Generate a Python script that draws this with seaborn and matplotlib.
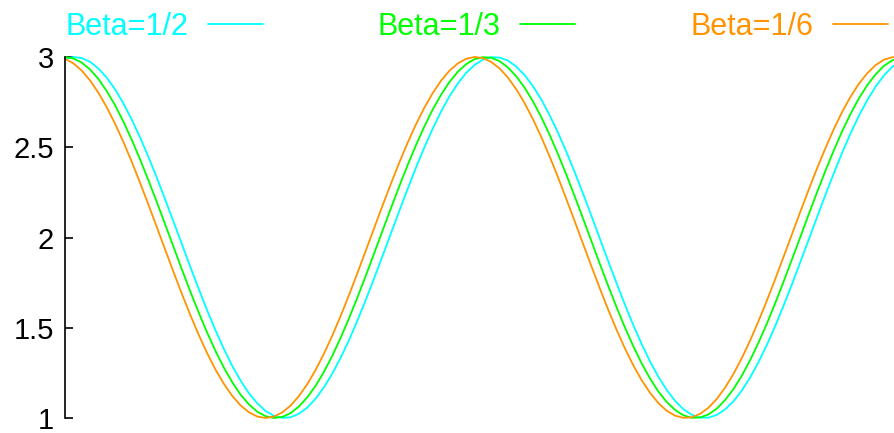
import matplotlib
matplotlib.use("Agg")
import matplotlib.pyplot as plt
import seaborn as sns
import pandas as pd

# x positions (radians), read at regular spacing
x_vals = [0.0, 0.125, 0.25, 0.375, 0.5, 0.625, 0.75, 0.875, 1.0, 1.125, 1.25,
          1.375, 1.5, 1.625, 1.75, 1.875, 2.0, 2.125, 2.25, 2.375, 2.5, 2.625,
          2.75, 2.875, 3.0, 3.125, 3.25, 3.375, 3.5, 3.625, 3.75, 3.875, 4.0,
          4.125, 4.25, 4.375, 4.5, 4.625, 4.75, 4.875, 5.0, 5.125, 5.25, 5.375,
          5.5, 5.625, 5.75, 5.875, 6.0, 6.125, 6.25, 6.375, 6.5, 6.625, 6.75,
          6.875, 7.0, 7.125, 7.25, 7.375, 7.5, 7.625, 7.75, 7.875, 8.0, 8.125,
          8.25, 8.375, 8.5, 8.625, 8.75, 8.875, 9.0, 9.125, 9.25, 9.375, 9.5,
          9.625, 9.75, 9.875, 10.0, 10.125, 10.25, 10.375, 10.5, 10.625, 10.75,
          10.875, 11.0, 11.125, 11.25, 11.375, 11.5, 11.625, 11.75, 11.875,
          12.0, 12.125, 12.25, 12.375, 12.5]

beta_half = [2.990, 3.000, 2.994, 2.973, 2.936, 2.885, 2.820, 2.742, 2.652,
             2.553, 2.445, 2.330, 2.209, 2.086, 1.961, 1.837, 1.715, 1.598,
             1.487, 1.384, 1.290, 1.208, 1.138, 1.082, 1.039, 1.012, 1.001,
             1.004, 1.024, 1.058, 1.108, 1.171, 1.247, 1.335, 1.433, 1.541,
             1.655, 1.775, 1.898, 2.023, 2.147, 2.269, 2.387, 2.499, 2.603,
             2.698, 2.782, 2.853, 2.912, 2.956, 2.985, 2.999, 2.997, 2.980,
             2.947, 2.900, 2.838, 2.764, 2.677, 2.580, 2.474, 2.361, 2.242,
             2.119, 1.994, 1.869, 1.747, 1.628, 1.515, 1.410, 1.314, 1.229,
             1.155, 1.095, 1.049, 1.018, 1.002, 1.002, 1.017, 1.048, 1.093,
             1.153, 1.226, 1.311, 1.406, 1.511, 1.624, 1.742, 1.865, 1.989,
             2.114, 2.237, 2.356, 2.470, 2.577, 2.674, 2.761, 2.836, 2.898,
             2.946, 2.979]

beta_third = [3.000, 2.992, 2.969, 2.931, 2.878, 2.811, 2.732, 2.641, 2.540,
              2.431, 2.315, 2.195, 2.071, 1.946, 1.822, 1.700, 1.584, 1.474,
              1.372, 1.280, 1.199, 1.130, 1.076, 1.035, 1.010, 1.000, 1.006,
              1.027, 1.064, 1.115, 1.179, 1.257, 1.346, 1.446, 1.554, 1.669,
              1.789, 1.913, 2.038, 2.162, 2.284, 2.401, 2.512, 2.615, 2.709,
              2.791, 2.861, 2.918, 2.960, 2.988, 2.999, 2.996, 2.977, 2.942,
              2.893, 2.830, 2.754, 2.666, 2.568, 2.461, 2.347, 2.227, 2.104,
              1.979, 1.854, 1.732, 1.614, 1.502, 1.398, 1.303, 1.219, 1.147,
              1.089, 1.045, 1.015, 1.001, 1.003, 1.020, 1.052, 1.100, 1.161,
              1.235, 1.322, 1.419, 1.524, 1.638, 1.757, 1.880, 2.004, 2.129,
              2.252, 2.370, 2.483, 2.589, 2.685, 2.771, 2.844, 2.904, 2.951,
              2.982, 2.998]

beta_sixth = [2.990, 2.965, 2.925, 2.870, 2.802, 2.721, 2.629, 2.528, 2.418,
              2.301, 2.180, 2.056, 1.931, 1.807, 1.686, 1.570, 1.461, 1.360,
              1.269, 1.190, 1.123, 1.070, 1.032, 1.008, 1.000, 1.008, 1.031,
              1.069, 1.122, 1.188, 1.267, 1.358, 1.458, 1.567, 1.683, 1.804,
              1.928, 2.053, 2.177, 2.298, 2.415, 2.525, 2.627, 2.719, 2.800,
              2.869, 2.924, 2.964, 2.990, 3.000, 2.994, 2.973, 2.937, 2.886,
              2.821, 2.744, 2.655, 2.556, 2.448, 2.333, 2.212, 2.089, 1.964,
              1.840, 1.718, 1.600, 1.489, 1.386, 1.292, 1.210, 1.140, 1.083,
              1.040, 1.013, 1.001, 1.004, 1.023, 1.057, 1.106, 1.169, 1.245,
              1.333, 1.431, 1.538, 1.652, 1.771, 1.895, 2.019, 2.144, 2.266,
              2.384, 2.496, 2.601, 2.696, 2.780, 2.852, 2.910, 2.955, 2.985,
              2.999, 2.997]

labels = ["Beta=1/2", "Beta=1/3", "Beta=1/6"]
colors = ["#00FFFF", "#00FF00", "#FF9400"]
y_ticks = [1, 1.5, 2, 2.5, 3]
y_tick_labels = ["1", "1.5", "2", "2.5", "3"]

sns.set_style("white")
plt.rcParams["font.family"] = ["Liberation Sans", "DejaVu Sans"]

W, H = 894, 433
fig = plt.figure(figsize=(W / 100, H / 100), dpi=100)
ax = fig.add_axes([65 / W, 1 - 418 / H, (W - 65) / W, (418 - 57) / H])

n = len(x_vals)
df = pd.DataFrame({"x": x_vals * 3,
                   "y": beta_half + beta_third + beta_sixth,
                   "series": [labels[0]] * n + [labels[1]] * n + [labels[2]] * n})

for lab, col in zip(labels, colors):
    sub = df[df["series"] == lab]
    sns.lineplot(data=sub, x="x", y="y", color=col, linewidth=1.3, ax=ax,
                 label=lab, sort=False)

for ln in ax.lines:
    ln.set_clip_on(False)

ax.set_xlim(0, 12.4)
ax.set_ylim(1, 3)
ax.set_xlabel("")
ax.set_ylabel("")
ax.set_xticks([])
ax.set_yticks(y_ticks)
ax.set_yticklabels(y_tick_labels)
ax.tick_params(axis="y", direction="in", length=6, width=1.2, pad=8,
               labelsize=21, color="black", labelcolor="black", left=True)
for side in ["top", "right", "bottom"]:
    ax.spines[side].set_visible(False)
ax.spines["left"].set_color("black")
ax.spines["left"].set_linewidth(1.2)
ax.patch.set_alpha(0)

handles = ax.lines[:3]
leg = ax.legend(handles, labels, ncol=3, markerfirst=False, frameon=False,
                fontsize=22, handlelength=1.8, handletextpad=0.65,
                columnspacing=3.76, loc="center left", borderpad=0,
                borderaxespad=0,
                bbox_to_anchor=(65 / W, 1 - 27 / H),
                bbox_transform=fig.transFigure)
for t, c in zip(leg.get_texts(), colors):
    t.set_color(c)

fig.savefig("out.png", dpi=100)
